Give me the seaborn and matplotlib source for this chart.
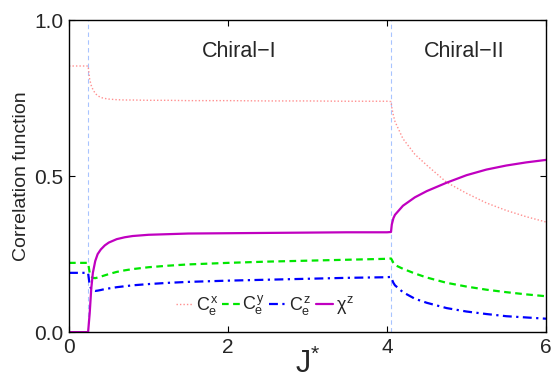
import matplotlib
matplotlib.use("Agg")
import matplotlib.pyplot as plt
import seaborn as sns
import pandas as pd

J = [0, 0.24, 0.26, 0.28, 0.30, 0.33, 0.36, 0.40, 0.45, 0.50, 0.60, 0.70, 0.80, 1.0, 1.25, 1.5,
     2.0, 2.5, 3.0, 3.5, 4.0, 4.05, 4.06, 4.08, 4.1, 4.2, 4.35, 4.5, 4.75, 5.0, 5.25, 5.5, 5.75, 6.0]
Cx = [0.853, 0.853, 0.81, 0.79, 0.778, 0.765, 0.758, 0.752, 0.749, 0.747, 0.745, 0.744, 0.744, 0.743,
      0.743, 0.742, 0.742, 0.741, 0.741, 0.740, 0.740, 0.739, 0.72, 0.695, 0.675, 0.62, 0.57, 0.535,
      0.48, 0.445, 0.414, 0.39, 0.37, 0.353]
Cy = [0.222, 0.222, 0.19, 0.178, 0.174, 0.173, 0.175, 0.178, 0.182, 0.186, 0.193, 0.198, 0.202, 0.208,
      0.213, 0.217, 0.222, 0.226, 0.229, 0.232, 0.235, 0.236, 0.232, 0.222, 0.215, 0.203, 0.188, 0.175,
      0.158, 0.146, 0.136, 0.128, 0.121, 0.115]
Cz = [0.19, 0.19, 0.15, 0.138, 0.134, 0.132, 0.133, 0.135, 0.138, 0.140, 0.144, 0.147, 0.150, 0.154,
      0.158, 0.161, 0.165, 0.168, 0.171, 0.174, 0.176, 0.177, 0.17, 0.158, 0.15, 0.128, 0.107, 0.094,
      0.077, 0.066, 0.058, 0.051, 0.047, 0.043]
Chi = [0, 0, 0.06, 0.14, 0.19, 0.228, 0.25, 0.265, 0.278, 0.287, 0.298, 0.304, 0.308, 0.312, 0.314,
       0.316, 0.317, 0.318, 0.319, 0.32, 0.32, 0.321, 0.345, 0.365, 0.376, 0.405, 0.432, 0.452, 0.479,
       0.503, 0.521, 0.534, 0.544, 0.552]
transitions = [0.24, 4.05]
region_labels = ["Chiral\u2212I", "Chiral\u2212II"]
region_x = [2.14, 4.97]

sns.set_theme(style="white")
plt.rcParams["font.family"] = ["Liberation Sans", "DejaVu Sans"]
plt.rcParams["mathtext.fontset"] = "custom"
plt.rcParams["mathtext.rm"] = "Liberation Sans"
plt.rcParams["mathtext.it"] = "Liberation Sans"
plt.rcParams["mathtext.bf"] = "Liberation Sans:bold"

df = pd.DataFrame({"J": J, "Cx": Cx, "Cy": Cy, "Cz": Cz, "Chi": Chi})

fig = plt.figure(figsize=(5.53, 3.8), dpi=100)
ax = fig.add_axes([0.1248, 0.126, 0.8626, 0.821])

for t in transitions:
    ax.axvline(t, color="#a8c4ff", ls=(0, (4, 3)), lw=0.8, zorder=1)

sns.lineplot(data=df, x="J", y="Cx", ax=ax, color="#ff8f8f", lw=1.0, ls=(0, (1, 1.5)), label=r"$C_e^x$")
sns.lineplot(data=df, x="J", y="Cy", ax=ax, color="#00e600", lw=1.6, ls=(0, (3, 2)), label=r"$C_e^y$")
sns.lineplot(data=df, x="J", y="Cz", ax=ax, color="#0000ff", lw=1.6, ls=(0, (4, 2, 1, 2)), label=r"$C_e^z$")
sns.lineplot(data=df, x="J", y="Chi", ax=ax, color="#c000c0", lw=1.6, ls="-", label=r"$\chi^z$")

for lab, xx in zip(region_labels, region_x):
    ax.text(xx, 0.9, lab, ha="center", va="center", fontsize=15.5)

ax.set_xlim(0, 6)
ax.set_ylim(0, 1)
ax.set_xticks([0, 2, 4, 6])
ax.set_yticks([0, 0.5, 1.0])
ax.set_yticklabels(["0.0", "0.5", "1.0"])
ax.tick_params(direction="in", length=4, width=0.8, labelsize=15, top=True, right=True,
               bottom=True, left=True, color="black", pad=4)
for s in ax.spines.values():
    s.set_color("black")
    s.set_linewidth(1.0)
ax.set_xlabel(r"J$^{*}$", fontsize=22, labelpad=-6)
ax.set_ylabel("Correlation function", fontsize=14, labelpad=3)

ax.legend(loc="center", bbox_to_anchor=(0.41, 0.085), ncol=4, frameon=False, fontsize=13,
          handlelength=0.95, handletextpad=0.15, columnspacing=0.25, borderpad=0)

fig.savefig("out.png", dpi=100)
